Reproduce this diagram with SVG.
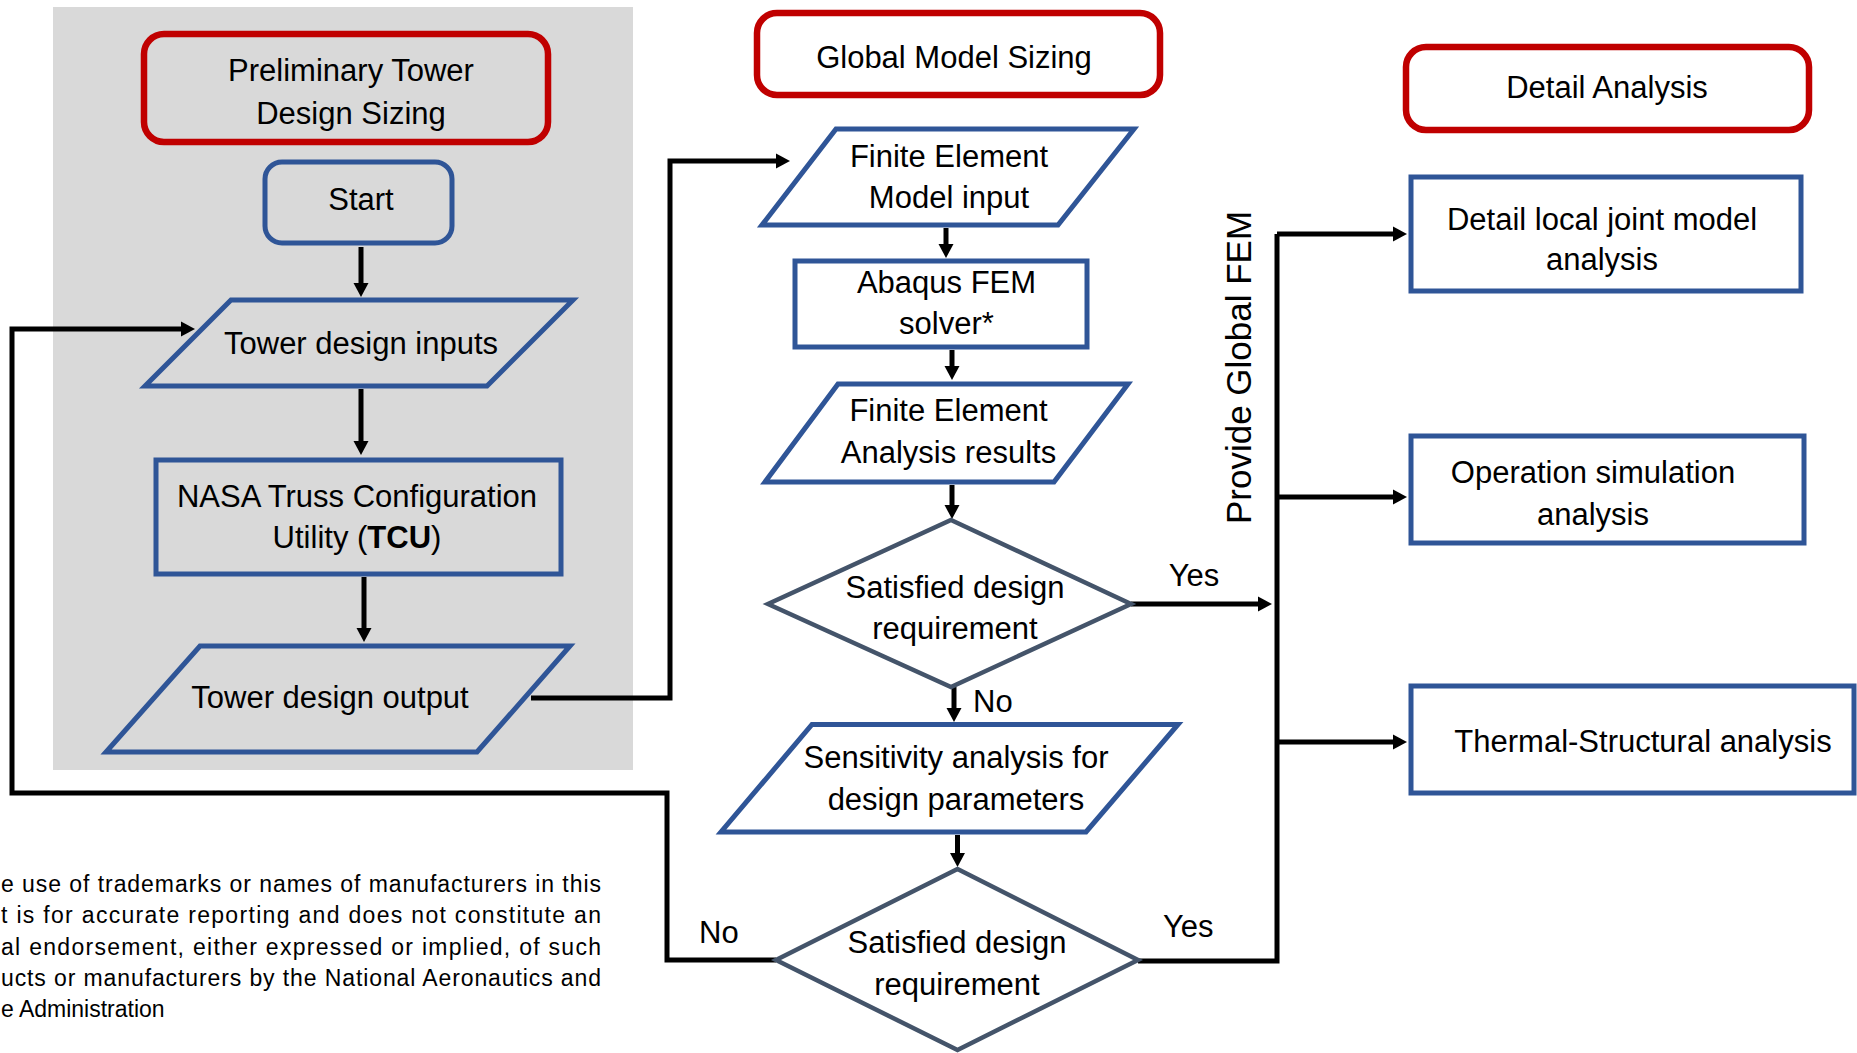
<svg xmlns="http://www.w3.org/2000/svg" width="1857" height="1053" viewBox="0 0 1857 1053">
<defs>
<style>
.red{fill:#fff;stroke:#C00000;stroke-width:6.5}
.redg{fill:none;stroke:#C00000;stroke-width:6.5}
.blue{fill:#fff;stroke:#2F5597;stroke-width:5}
.blueg{fill:none;stroke:#2F5597;stroke-width:5}
.dia{fill:#fff;stroke:#44546A;stroke-width:4.5}
.conn{fill:none;stroke:#000;stroke-width:5}
.t{font-family:"Liberation Sans",Arial,sans-serif;font-size:31px;fill:#000;text-anchor:middle}
.s{text-anchor:start}
.disc{font-family:"Liberation Sans",Arial,sans-serif;font-size:23px;fill:#000}
</style>
<marker id="ah" markerUnits="userSpaceOnUse" markerWidth="16" markerHeight="16" refX="3" refY="8" orient="auto">
<path d="M0,0.5 L14,8 L0,15.5 Z" fill="#000"/>
</marker>
</defs>
<rect width="1857" height="1053" fill="#fff"/>
<rect id="panel" x="53" y="7" width="580" height="763" fill="#D9D9D9"/>

<g id="connectors">
<path class="conn" d="M361,247 V286" marker-end="url(#ah)"/>
<path class="conn" d="M361,389 V444" marker-end="url(#ah)"/>
<path class="conn" d="M364,577 V631" marker-end="url(#ah)"/>
<path class="conn" d="M531,698 H670 V161 H779" marker-end="url(#ah)"/>
<path class="conn" d="M946,228 V247" marker-end="url(#ah)"/>
<path class="conn" d="M952,350 V369" marker-end="url(#ah)"/>
<path class="conn" d="M952,485 V508" marker-end="url(#ah)"/>
<path class="conn" d="M954,687 V711" marker-end="url(#ah)"/>
<path class="conn" d="M957.5,835 V856" marker-end="url(#ah)"/>
<path class="conn" d="M1131,604 H1261" marker-end="url(#ah)"/>
<path class="conn" d="M1138,961 H1277 V234"/>
<path class="conn" d="M1277,234 H1396" marker-end="url(#ah)"/>
<path class="conn" d="M1277,497 H1396" marker-end="url(#ah)"/>
<path class="conn" d="M1277,742 H1396" marker-end="url(#ah)"/>
<path class="conn" d="M776,960 H667 V793 H12 V329 H184" marker-end="url(#ah)"/>
<text class="t" x="1194" y="586">Yes</text>
<text class="t s" x="973" y="712">No</text>
<text class="t s" x="699" y="943">No</text>
<text class="t s" x="1163" y="937">Yes</text>
<text class="t" x="0" y="0" style="font-size:35px" transform="translate(1251,367.5) rotate(-90)">Provide Global FEM</text>
</g>

<g id="prelim-title">
<rect class="redg" x="144" y="34" width="404" height="108" rx="20"/>
<text class="t" x="351" y="81">Preliminary Tower</text>
<text class="t" x="351" y="124">Design Sizing</text>
</g>
<g id="start">
<rect class="blueg" x="265" y="162" width="187" height="81" rx="17"/>
<text class="t" x="361" y="210">Start</text>
</g>
<g id="tower-inputs">
<polygon class="blueg" points="231,300 573,300 487,386 145,386"/>
<text class="t" x="361" y="354">Tower design inputs</text>
</g>
<g id="tcu">
<rect class="blueg" x="156" y="460" width="405" height="114"/>
<text class="t" x="357" y="507">NASA Truss Configuration</text>
<text class="t" x="357" y="548">Utility (<tspan font-weight="bold">TCU</tspan>)</text>
</g>
<g id="tower-output">
<polygon class="blueg" points="200,646 570,646 477,752 106,752"/>
<text class="t" x="330" y="708">Tower design output</text>
</g>

<g id="global-title">
<rect class="red" x="757" y="13" width="403" height="82" rx="20"/>
<text class="t" x="954" y="68">Global Model Sizing</text>
</g>
<g id="fe-input">
<polygon class="blue" points="836,129 1134,129 1058,225 762,225"/>
<text class="t" x="949" y="167">Finite Element</text>
<text class="t" x="949" y="208">Model input</text>
</g>
<g id="abaqus">
<rect class="blue" x="795" y="261" width="292" height="86"/>
<text class="t" x="946.5" y="293">Abaqus FEM</text>
<text class="t" x="946.5" y="334">solver*</text>
</g>
<g id="fe-results">
<polygon class="blue" points="838,384 1128,384 1054,482 765,482"/>
<text class="t" x="948.5" y="421">Finite Element</text>
<text class="t" x="948.5" y="463">Analysis results</text>
</g>
<g id="decision1">
<polygon class="dia" points="951,520 1131,604 951,687 768,604"/>
<text class="t" x="955" y="598">Satisfied design</text>
<text class="t" x="955" y="639">requirement</text>
</g>
<g id="sensitivity">
<polygon class="blue" points="812,724.5 1178,724.5 1086,832 721,832"/>
<text class="t" x="956" y="768">Sensitivity analysis for</text>
<text class="t" x="956" y="810">design parameters</text>
</g>
<g id="decision2">
<polygon class="dia" points="957.5,869 1138,960 957.5,1050 776,960"/>
<text class="t" x="957" y="953">Satisfied design</text>
<text class="t" x="957" y="995">requirement</text>
</g>

<g id="detail-title">
<rect class="red" x="1406" y="47" width="403" height="83" rx="20"/>
<text class="t" x="1607" y="98">Detail Analysis</text>
</g>
<g id="joint">
<rect class="blue" x="1411" y="177" width="390" height="114"/>
<text class="t" x="1602" y="230">Detail local joint model</text>
<text class="t" x="1602" y="270">analysis</text>
</g>
<g id="operation">
<rect class="blue" x="1411" y="436" width="393" height="107"/>
<text class="t" x="1593" y="483">Operation simulation</text>
<text class="t" x="1593" y="525">analysis</text>
</g>
<g id="thermal">
<rect class="blue" x="1411" y="686" width="443" height="107"/>
<text class="t" x="1643" y="752">Thermal-Structural analysis</text>
</g>

<g id="disclaimer">
<text class="disc" x="1" y="892" textLength="600" lengthAdjust="spacing">e use of trademarks or names of manufacturers in this</text>
<text class="disc" x="1" y="923" textLength="600" lengthAdjust="spacing">t is for accurate reporting and does not constitute an</text>
<text class="disc" x="1" y="955" textLength="600" lengthAdjust="spacing">al endorsement, either expressed or implied, of such</text>
<text class="disc" x="1" y="986" textLength="600" lengthAdjust="spacing">ucts or manufacturers by the National Aeronautics and</text>
<text class="disc" x="1" y="1017">e Administration</text>
</g>
</svg>
